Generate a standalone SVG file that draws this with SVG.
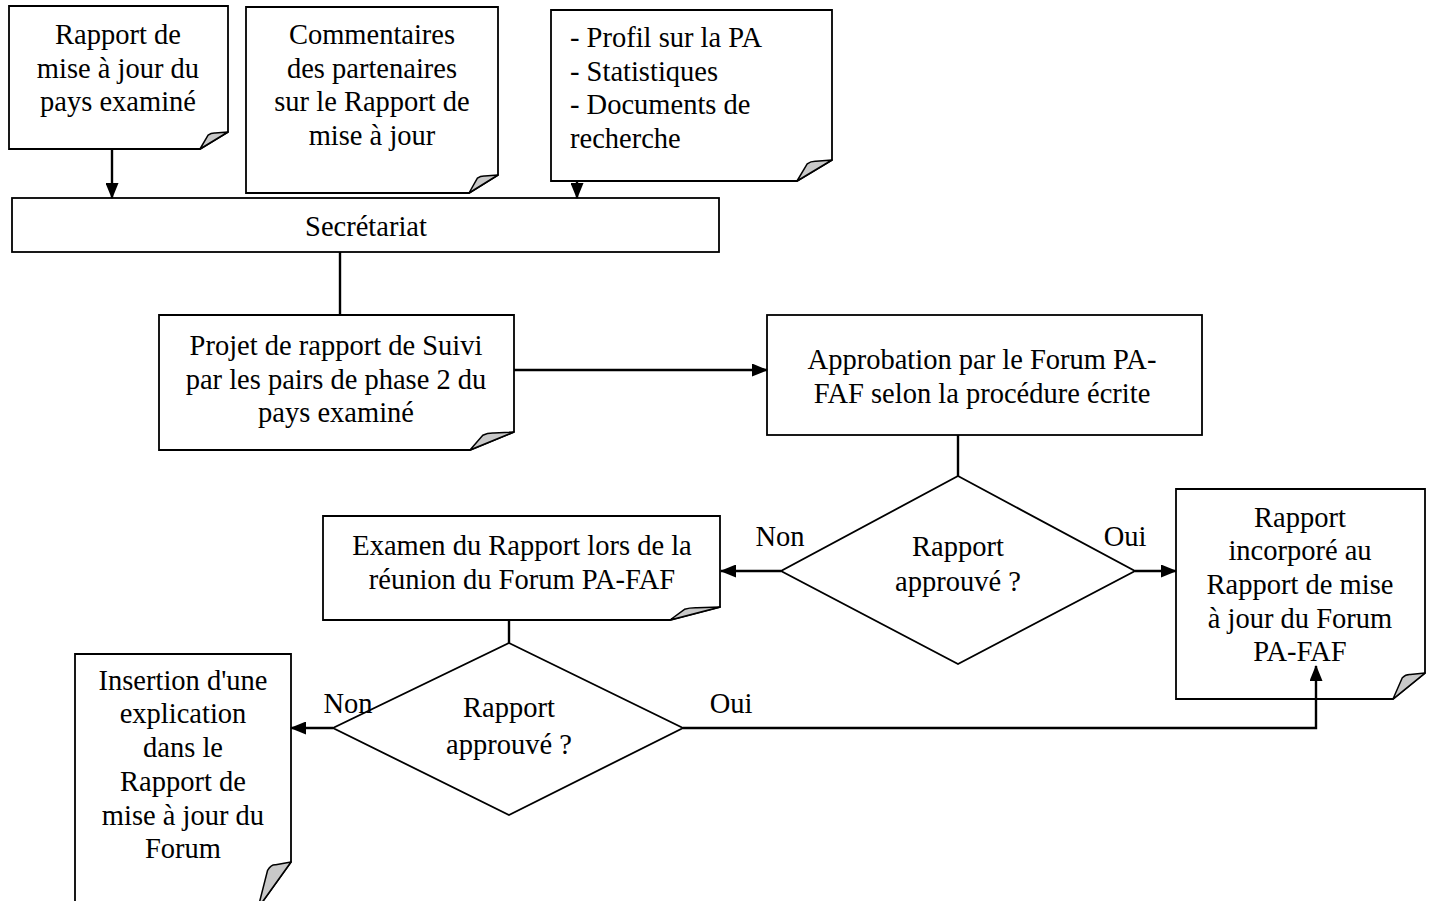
<svg xmlns="http://www.w3.org/2000/svg" width="1430" height="901" viewBox="0 0 1430 901">
<style>
.box{fill:#fff;stroke:#000;stroke-width:1.8}
.flap{fill:#c8c8c8;stroke:#000;stroke-width:1.5;stroke-linejoin:round}
.con{fill:none;stroke:#000;stroke-width:2.4}
text{font-family:"Liberation Serif","Times New Roman",Tinos,"DejaVu Serif",serif;font-size:28.5px;fill:#000}
.c{text-anchor:middle}
</style>
<defs>
<marker id="ah" markerUnits="userSpaceOnUse" markerWidth="16" markerHeight="13" refX="15" refY="6.5" orient="auto">
<path d="M0,0 L16,6.5 L0,13 Z" fill="#000"/>
</marker>
</defs>
<rect width="1430" height="901" fill="#fff"/>

<g id="n1">
<path class="box" d="M9,6 H228 V132 L200,149 H9 Z"/>
<path class="flap" d="M200,149 L208.1,135.1 Q211.2,132.8 215.1,133 L228,132 Z"/>
<text class="c" x="118" y="44">Rapport de</text>
<text class="c" x="118" y="78">mise à jour du</text>
<text class="c" x="118" y="111">pays examiné</text>
</g>

<g id="n2">
<path class="box" d="M246,7 H498 V175 L469,193 H246 Z"/>
<path class="flap" d="M469,193 L477.4,178.2 Q480.6,175.9 484.7,176.1 L498,175 Z"/>
<text class="c" x="372" y="44">Commentaires</text>
<text class="c" x="372" y="78">des partenaires</text>
<text class="c" x="372" y="111">sur le Rapport de</text>
<text class="c" x="372" y="145">mise à jour</text>
</g>

<g id="n3">
<path class="box" d="M551,10 H832 V160 L797,181 H551 Z"/>
<path class="flap" d="M797,181 L807.2,163.8 Q811,161.1 815.9,161.3 L832,160 Z"/>
<text x="570" y="47">- Profil sur la PA</text>
<text x="570" y="81">- Statistiques</text>
<text x="570" y="114">- Documents de</text>
<text x="570" y="148">recherche</text>
</g>

<g id="secretariat">
<rect class="box" x="12" y="198" width="707" height="54"/>
<text class="c" x="366" y="236">Secrétariat</text>
</g>

<g id="projet">
<path class="box" d="M159,315 H514 V432 L470,450 H159 Z"/>
<path class="flap" d="M470,450 L482.8,435.2 Q487.6,432.9 493.8,433.1 L514,432 Z"/>
<text class="c" x="336" y="355">Projet de rapport de Suivi</text>
<text class="c" x="336" y="389">par les pairs de phase 2 du</text>
<text class="c" x="336" y="422">pays examiné</text>
</g>

<g id="approbation">
<rect class="box" x="767" y="315" width="435" height="120"/>
<text class="c" x="982" y="369">Approbation par le Forum PA-</text>
<text class="c" x="982" y="403">FAF selon la procédure écrite</text>
</g>

<g id="decision1">
<path class="box" d="M958,476 L1135,571 L958,664 L781,571 Z"/>
<text class="c" x="958" y="556">Rapport</text>
<text class="c" x="958" y="591">approuvé ?</text>
</g>

<g id="examen">
<path class="box" d="M323,516 H720 V607 L670,620 H323 Z"/>
<path class="flap" d="M670,620 L684.5,609.3 Q690,607.6 697,607.8 L720,607 Z"/>
<text class="c" x="522" y="555">Examen du Rapport lors de la</text>
<text class="c" x="522" y="589">réunion du Forum PA-FAF</text>
</g>

<g id="incorpore">
<path class="box" d="M1176,489 H1425 V673 L1393,699 H1176 Z"/>
<path class="flap" d="M1393,699 L1402.3,677.7 Q1405.8,674.3 1410.3,674.6 L1425,673 Z"/>
<text class="c" x="1300" y="527">Rapport</text>
<text class="c" x="1300" y="560">incorporé au</text>
<text class="c" x="1300" y="594">Rapport de mise</text>
<text class="c" x="1300" y="628">à jour du Forum</text>
<text class="c" x="1300" y="661">PA-FAF</text>
</g>

<g id="decision2">
<path class="box" d="M509,643 L683,728 L509,815 L333,728 Z"/>
<text class="c" x="509" y="717">Rapport</text>
<text class="c" x="509" y="754">approuvé ?</text>
</g>

<g id="insertion">
<path class="box" d="M75,654 H291 V862 L258,908 H75 Z"/>
<path class="flap" d="M258,908 L267.6,870.3 Q271.2,864.3 275.8,864.8 L291,862 Z"/>
<text class="c" x="183" y="690">Insertion d'une</text>
<text class="c" x="183" y="723">explication</text>
<text class="c" x="183" y="757">dans le</text>
<text class="c" x="183" y="791">Rapport de</text>
<text class="c" x="183" y="825">mise à jour du</text>
<text class="c" x="183" y="858">Forum</text>
</g>

<g id="connectors">
<line class="con" x1="112" y1="149" x2="112" y2="198" marker-end="url(#ah)"/>
<line class="con" x1="577" y1="181" x2="577" y2="198" marker-end="url(#ah)"/>
<line class="con" x1="340" y1="252" x2="340" y2="315"/>
<line class="con" x1="514" y1="370" x2="767" y2="370" marker-end="url(#ah)"/>
<line class="con" x1="958" y1="435" x2="958" y2="476"/>
<line class="con" x1="781" y1="571" x2="721" y2="571" marker-end="url(#ah)"/>
<line class="con" x1="1135" y1="571" x2="1176" y2="571" marker-end="url(#ah)"/>
<line class="con" x1="509" y1="620" x2="509" y2="643"/>
<line class="con" x1="333" y1="728" x2="291" y2="728" marker-end="url(#ah)"/>
<polyline class="con" points="683,728 1316,728 1316,666" marker-end="url(#ah)"/>
<text class="c" x="780" y="546">Non</text>
<text class="c" x="1125" y="546">Oui</text>
<text class="c" x="348" y="713">Non</text>
<text class="c" x="731" y="713">Oui</text>
</g>
</svg>
